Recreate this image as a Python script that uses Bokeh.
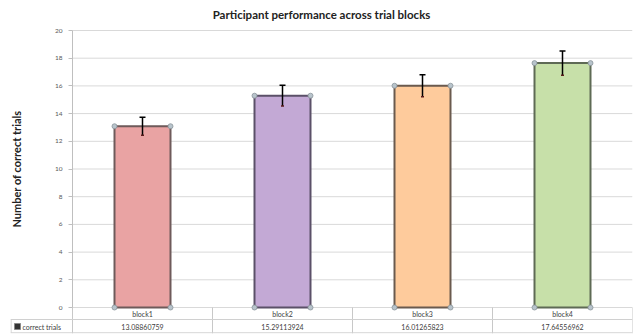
from bokeh.plotting import figure
from bokeh.models import (ColumnDataSource, Range1d, FixedTicker, Whisker, TeeHead)
from bokeh.core.properties import value
from bokeh.embed import file_html
from bokeh.resources import INLINE

# ---- data ----
categories = ["block1", "block2", "block3", "block4"]
correct_trials = [13.08860759, 15.29113924, 16.01265823, 17.64556962]
errors = [0.65, 0.75, 0.80, 0.87]
bar_colors = ["#E9A3A3", "#C3A9D5", "#FECB9C", "#C7E0A9"]
bar_edges = ["#6E5A5A", "#5B5068", "#6A5A4E", "#5E6A55"]
y_ticks = [0, 2, 4, 6, 8, 10, 12, 14, 16, 18, 20]
series_name = "correct trials"
title = "Participant performance across trial blocks"
y_label = "Number of correct trials"

FONT = "Lato"
xs = [i + 1 for i in range(len(categories))]

# px geometry (layout only)
px_per_unit = (307 - 30) / 20.0
y_min = -(333 - 307) / px_per_unit
y_max = y_ticks[-1] + 5 / px_per_unit
row_line = -(319 - 307) / px_per_unit
cat_row_y = -(313 - 307) / px_per_unit
val_row_y = -(326 - 307) / px_per_unit
x_px = 140.0
left_cell = 0.5 - 62 / x_px
x_lo, x_hi = 0.5, len(categories) + 0.5

p = figure(width=636, height=335, output_backend="svg", toolbar_location=None,
           x_range=Range1d(left_cell, x_hi), y_range=Range1d(y_min, y_max),
           min_border_left=10, min_border_right=4, min_border_top=25,
           min_border_bottom=2, outline_line_color=None)

p.title.text = title
p.title.align = "center"
p.title.text_font = FONT
p.title.text_font_size = "11.5px"
p.title.text_font_style = "bold"
p.title.text_color = "#222222"

p.xaxis.visible = False
p.xgrid.visible = False
p.ygrid.visible = False

ya = p.yaxis[0]
ya.fixed_location = x_lo
ya.bounds = (y_ticks[0], y_ticks[-1])
ya.ticker = FixedTicker(ticks=y_ticks)
ya.axis_line_color = "#bfbfbf"
ya.major_tick_line_color = "#bfbfbf"
ya.major_tick_out = 4
ya.major_tick_in = 0
ya.minor_tick_line_color = None
ya.major_label_text_font = FONT
ya.major_label_text_font_size = "6.5px"
ya.major_label_text_color = "#595959"
ya.major_label_standoff = 6
ya.axis_label = y_label
ya.axis_label_text_font = FONT
ya.axis_label_text_font_size = "11px"
ya.axis_label_text_font_style = "bold"
ya.axis_label_text_color = "#222222"
ya.axis_label_standoff = 29

# horizontal grid lines (plot area only)
p.segment(x0=[x_lo] * len(y_ticks), y0=y_ticks, x1=[x_hi] * len(y_ticks), y1=y_ticks,
          line_color="#d9d9d9", line_width=1)

# bars
src = ColumnDataSource(dict(x=xs, top=correct_trials, color=bar_colors, edge=bar_edges,
                            upper=[v + e for v, e in zip(correct_trials, errors)],
                            lower=[v - e for v, e in zip(correct_trials, errors)],
                            cat=categories,
                            label=["%.8f" % v for v in correct_trials]))
p.vbar(x="x", top="top", bottom=0, width=0.4, fill_color="color",
       line_color="edge", line_width=2, source=src)

# corner handles
hx, hy = [], []
for x, v in zip(xs, correct_trials):
    for dx in (-0.2, 0.2):
        for yy in (0, v):
            hx.append(x + dx)
            hy.append(yy)
p.scatter(hx, hy, size=5, fill_color="#b8c4cc", line_color="#8a949a", line_width=0.8)

# error bars
p.add_layout(Whisker(base="x", upper="upper", lower="lower", source=src, level="overlay",
                     line_color="black", line_width=1.5,
                     upper_head=TeeHead(size=6, line_color="black", line_width=1.5),
                     lower_head=TeeHead(size=3, line_color="#5a1a1a", line_width=1.5)))

# data table under the chart
edges = [x_lo + i for i in range(len(categories) + 1)]
p.segment(x0=edges, y0=[y_min] * len(edges), x1=edges, y1=[0] * len(edges),
          line_color="#c8c8c8", line_width=1)
y_bot = y_min + 0.05
p.segment(x0=[left_cell, left_cell, left_cell + 0.004], y0=[row_line, y_bot, y_bot],
          x1=[x_hi, x_hi, left_cell + 0.004], y1=[row_line, y_bot, row_line],
          line_color="#d0d0d0", line_width=1)
p.text(x="x", y=cat_row_y, text="cat", source=src, text_font=value(FONT),
       text_font_size="7px", text_color="#404040", text_align="center",
       text_baseline="middle")
p.text(x="x", y=val_row_y, text="label", source=src, text_font=value(FONT),
       text_font_size="7px", text_color="#404040", text_align="center",
       text_baseline="middle")

# legend cell
p.scatter([left_cell + 7 / x_px], [val_row_y], marker="square", size=6,
          fill_color="#333333", line_color="#888888", line_width=1)
p.text([left_cell + 12 / x_px], [val_row_y], text=[series_name], text_font=value(FONT),
       text_font_size="7px", text_color="#404040", text_align="left",
       text_baseline="middle")

open("out.html", "w").write(file_html(p, INLINE))
